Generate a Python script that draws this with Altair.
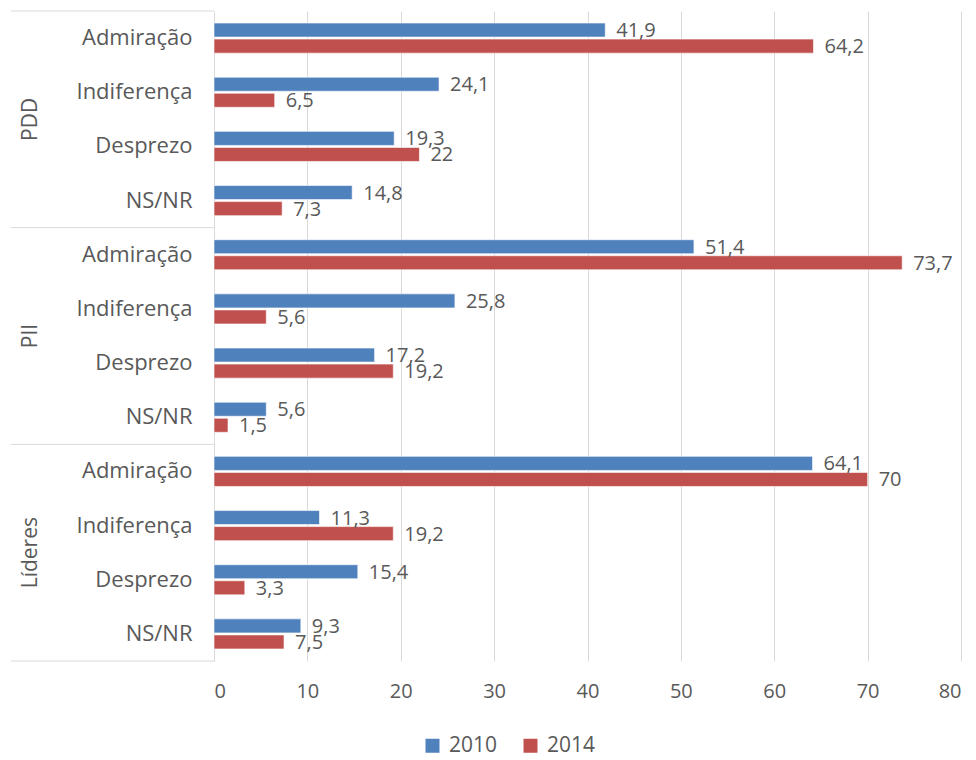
import altair as alt
import pandas as pd

groups = ["PDD", "PII", "Líderes"]
categories = ["Admiração", "Indiferença", "Desprezo", "NS/NR"]
series = ["2010", "2014"]
v2010 = [41.9, 24.1, 19.3, 14.8, 51.4, 25.8, 17.2, 5.6, 64.1, 11.3, 15.4, 9.3]
v2014 = [64.2, 6.5, 22, 7.3, 73.7, 5.6, 19.2, 1.5, 70, 19.2, 3.3, 7.5]
colors = ["#4F81BD", "#C0504D"]

keys = [f"{g}|{c}" for g in groups for c in categories]
rows = []
for i, k in enumerate(keys):
    rows.append({"key": k, "series": "2010", "value": v2010[i]})
    rows.append({"key": k, "series": "2014", "value": v2014[i]})
df = pd.DataFrame(rows)

# separators: top of each group + bottom of last
sep = pd.DataFrame({"key": [f"{g}|{categories[0]}" for g in groups]})
sep_bottom = pd.DataFrame({"key": [keys[-1]]})
glabels = pd.DataFrame({"key": [f"{g}|{categories[2]}" for g in groups], "label": groups})

FONT = "Open Sans"
GREY = "#595959"

yscale = alt.Scale(domain=keys, paddingInner=0, paddingOuter=0)
yax = alt.Axis(title=None, labelExpr="split(datum.value, '|')[1]", ticks=False,
               labelFontSize=22, labelColor=GREY, labelFont=FONT, labelPadding=22,
               domainColor="#D9D9D9", grid=False)

xscale = alt.Scale(domain=[0, 80])
xax = alt.Axis(title=None, values=list(range(0, 81, 10)), ticks=False, domain=False,
               labelFontSize=20, labelColor=GREY, labelFont=FONT, labelPadding=20,
               gridColor="#D9D9D9")

offscale = alt.Scale(paddingInner=0.125, paddingOuter=0.75)

base = alt.Chart(df)

bars = base.mark_bar(stroke="white", strokeWidth=0.6).encode(
    x=alt.X("value:Q", scale=xscale, axis=xax),
    y=alt.Y("key:N", scale=yscale, axis=yax, sort=keys),
    yOffset=alt.YOffset("series:N", sort=series, scale=offscale),
    color=alt.Color("series:N", sort=series,
                    scale=alt.Scale(domain=series, range=colors),
                    legend=alt.Legend(title=None, orient="none", direction="horizontal",
                                      legendX=208, legendY=724, symbolType="square",
                                      symbolSize=196, labelFontSize=21, labelColor=GREY,
                                      labelFont=FONT, columnPadding=22, labelOffset=6,
                                      symbolStrokeWidth=0)),
)

labels = base.transform_calculate(
    lbl="replace(toString(datum.value), '.', ',')"
).mark_text(align="left", baseline="middle", dx=11, dy=1, fontSize=20,
            color=GREY, font=FONT).encode(
    x=alt.X("value:Q", scale=xscale),
    y=alt.Y("key:N", scale=yscale, sort=keys),
    yOffset=alt.YOffset("series:N", sort=series, scale=offscale),
    text="lbl:N",
)

seps = alt.Chart(sep).mark_rule(color="#D9D9D9", strokeWidth=1).encode(
    y=alt.Y("key:N", scale=yscale, bandPosition=0),
    x=alt.value(-203), x2=alt.value(0),
)
seps_b = alt.Chart(sep_bottom).mark_rule(color="#D9D9D9", strokeWidth=1).encode(
    y=alt.Y("key:N", scale=yscale, bandPosition=1),
    x=alt.value(-203), x2=alt.value(0),
)
gl = alt.Chart(glabels).mark_text(angle=270, align="center", baseline="middle",
                                  fontSize=21, color=GREY, font=FONT).encode(
    y=alt.Y("key:N", scale=yscale, bandPosition=0),
    x=alt.value(-183),
    text="label:N",
)

chart = alt.layer(bars, labels, seps, seps_b, gl).properties(
    width=747, height=650,
    padding={"left": 2, "top": 2, "right": 5, "bottom": 5},
).configure_view(stroke=None)

chart.save("out.html", embed_options={"renderer": "svg", "actions": False})
